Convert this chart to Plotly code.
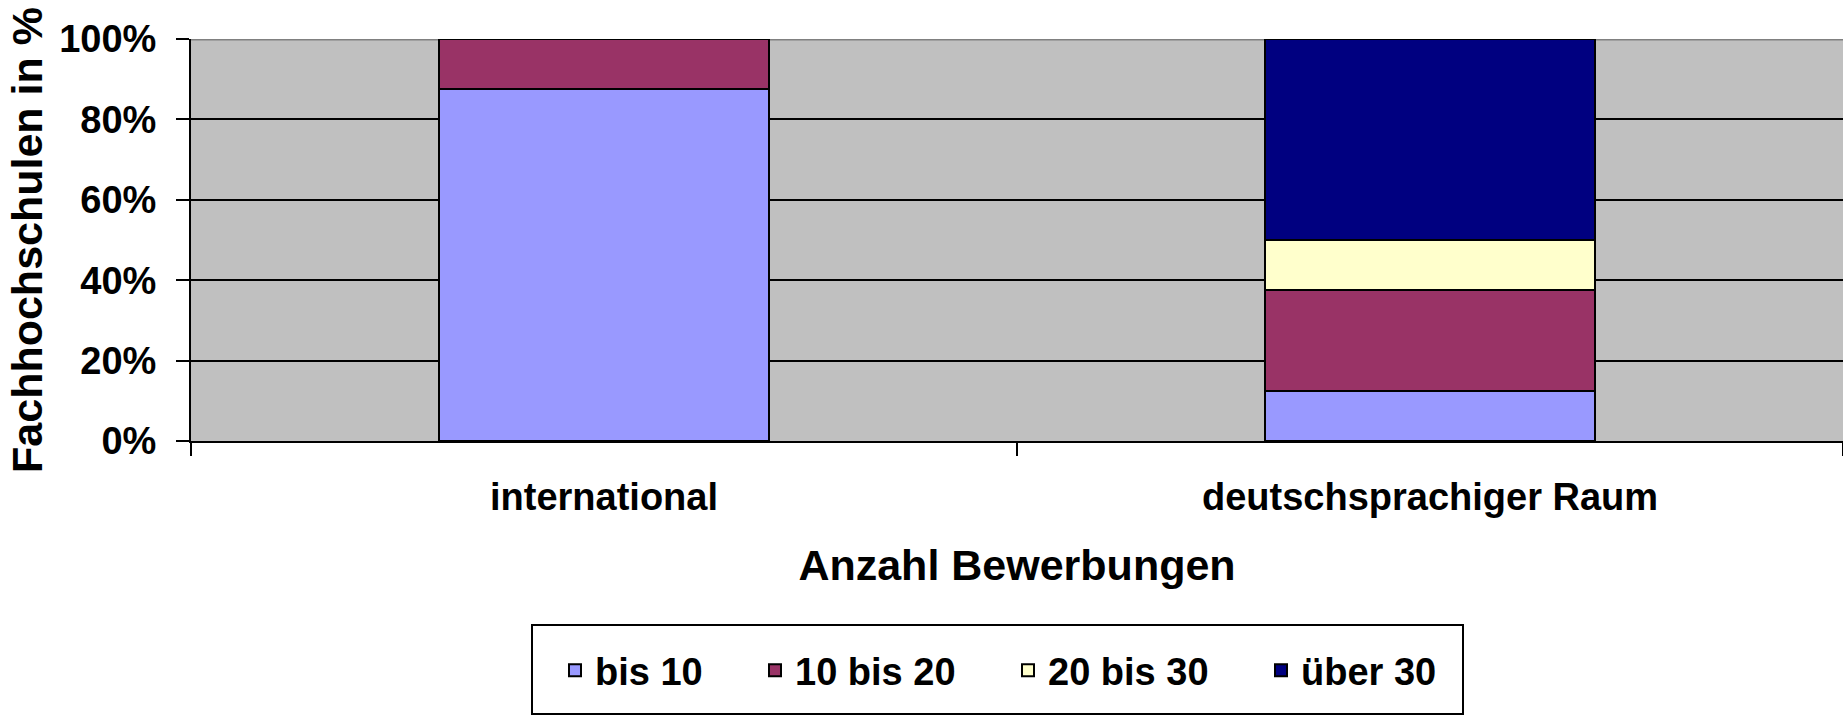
import plotly.graph_objects as go

categories = ["international", "deutschsprachiger Raum"]
series_names = ["bis 10", "10 bis 20", "20 bis 30", "über 30"]
bis_10 = [87.5, 12.5]
bis_20 = [12.5, 25.0]
bis_30 = [None, 12.5]
ueber_30 = [None, 50.0]
colors = ["#9999FF", "#993366", "#FFFFCC", "#000080"]
y_ticks = [0, 20, 40, 60, 80, 100]
y_tick_labels = ["0%", "20%", "40%", "60%", "80%", "100%"]

FONT = "Liberation Sans, Arial, sans-serif"
W, H = 1843, 715

legend_ids = ["legend", "legend2", "legend3", "legend4"]
legend_x_px = [555, 755, 1008, 1261]

fig = go.Figure()
for name, vals, col, lg in zip(series_names, [bis_10, bis_20, bis_30, ueber_30], colors, legend_ids):
    fig.add_trace(go.Bar(
        x=categories, y=vals, name=name, legend=lg,
        marker=dict(color=col, line=dict(color="black", width=2)),
    ))

legend_style = dict(
    orientation="h", xref="container", yref="container",
    xanchor="left", yanchor="top", y=1 - 639 / H,
    bgcolor="rgba(0,0,0,0)", borderwidth=0,
    font=dict(size=38, family=FONT, weight="bold", color="black"),
)
legends = {lg: dict(legend_style, x=px / W) for lg, px in zip(legend_ids, legend_x_px)}

fig.update_layout(
    width=W, height=H,
    barmode="stack", bargap=0.6,
    paper_bgcolor="white", plot_bgcolor="#C0C0C0",
    margin=dict(l=191, r=0, t=39, b=274, autoexpand=False),
    font=dict(family=FONT, color="black", weight="bold"),
    showlegend=True,
    **legends,
    xaxis=dict(
        type="category", range=[-0.5, 1.5],
        showline=True, linecolor="black", linewidth=2,
        ticks="outside", ticklen=13, tickwidth=2, tickcolor="black",
        tickson="boundaries",
        tickfont=dict(size=38, family=FONT, weight="bold"),
        ticklabelstandoff=21,
        title=dict(text="Anzahl Bewerbungen", font=dict(size=43, family=FONT, weight="bold"), standoff=33),
        automargin=False, showgrid=False,
    ),
    yaxis=dict(
        range=[0, 100], tickmode="array", tickvals=y_ticks, ticktext=y_tick_labels,
        showline=True, linecolor="black", linewidth=2,
        ticks="outside", ticklen=13, tickwidth=2, tickcolor="black",
        showgrid=True, gridcolor="black", gridwidth=2,
        zeroline=False,
        tickfont=dict(size=38, family=FONT, weight="bold"),
        ticklabelstandoff=12,
        title=dict(text="Fachhochschulen in %", font=dict(size=43, family=FONT, weight="bold"), standoff=3),
        automargin=False,
    ),
    shapes=[
        dict(type="line", xref="paper", yref="y", x0=0, x1=1, y0=100, y1=100,
             line=dict(color="#808080", width=3), layer="between"),
        # legend frame
        dict(type="rect", xref="paper", yref="paper",
             x0=(532 - 191) / 1652, x1=(1463 - 191) / 1652,
             y0=(441 - 714) / 402, y1=(441 - 625) / 402,
             line=dict(color="black", width=2), fillcolor="white", layer="below"),
    ],
)

fig.write_html(
    "out.html",
    config={"displayModeBar": False},
    post_script="document.body.style.margin='0px';document.body.style.overflow='hidden';",
)
